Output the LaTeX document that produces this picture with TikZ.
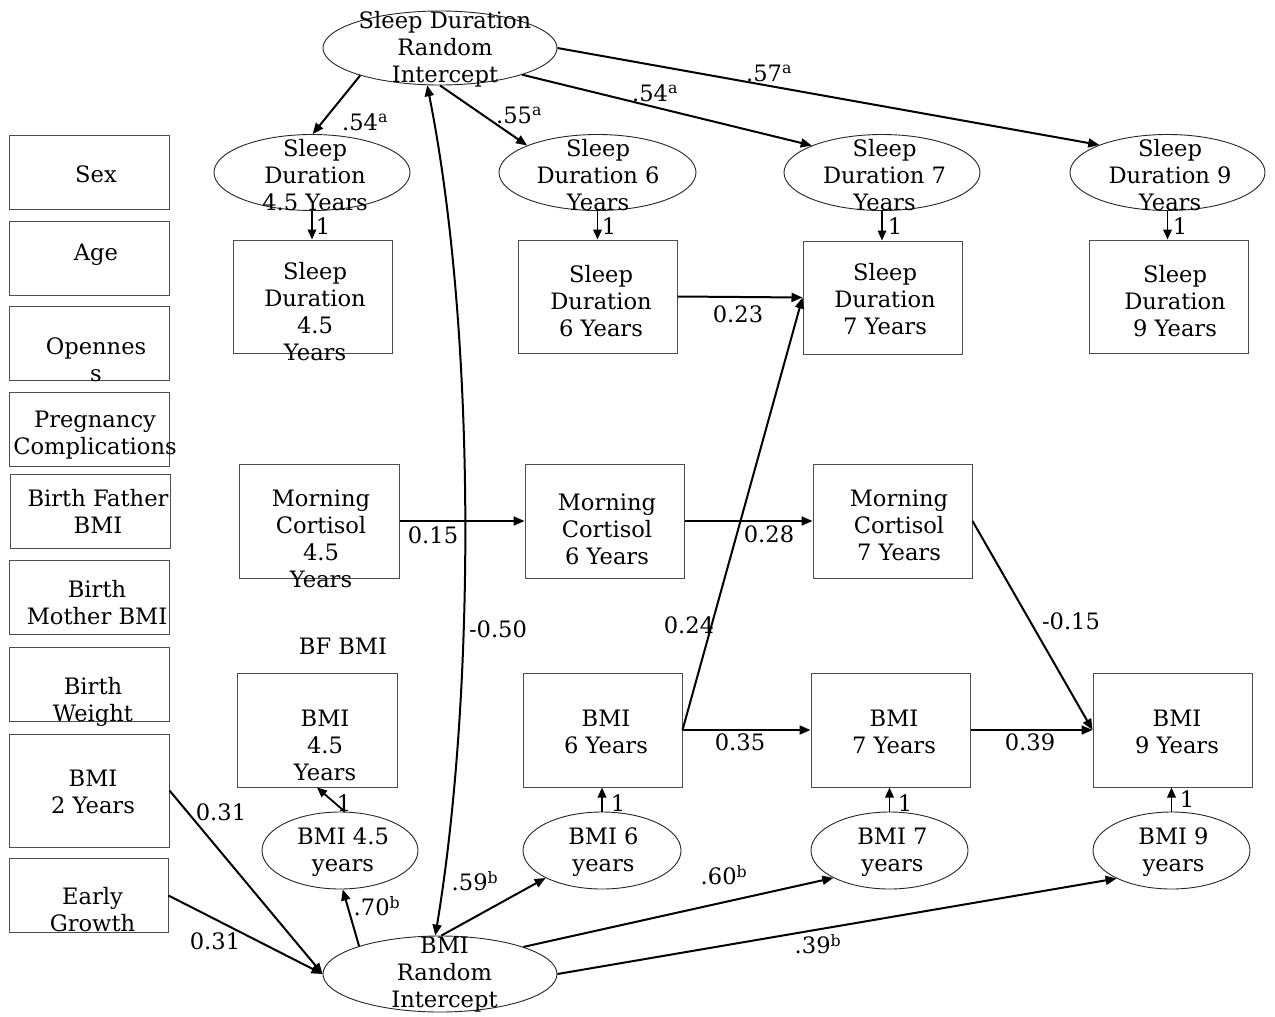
\documentclass[tikz,border=0pt]{standalone}
\usepackage{fontspec}
\setmainfont{DejaVu Serif}
\usetikzlibrary{arrows.meta,shapes.geometric}
\newcommand\myfs{\fontsize{22.6}{27}\selectfont}
\begin{document}
\begin{tikzpicture}[x=1pt,y=-1pt,
  boxn/.style={draw=black!70, line width=1pt, minimum width=160pt, minimum height=74pt, inner sep=0pt},
  elln/.style={ellipse, draw=black!85, line width=0.9pt, inner sep=0pt},
  txt/.style={align=center, inner sep=0pt, font=\myfs},
  lbl/.style={inner sep=0pt, font=\myfs},
  arr/.style={line width=2pt, -{Triangle[length=11pt,width=9pt]}},
  arrs/.style={line width=1.8pt, -{Triangle[length=10pt,width=8.5pt]}},
  dbl/.style={line width=2pt, {Triangle[length=11pt,width=9pt]}-{Triangle[length=11pt,width=9pt]}}]
\fill[white] (0,0) rectangle (1275,1017);
\useasboundingbox (0,0) rectangle (1275,1017);

% left column
\node[boxn] (sex) at (89,172) {};
\node[txt] (sext) at (96,174) {Sex};
\node[boxn] (age) at (89,258.5) {};
\node[txt] (aget) at (96,255) {Age};
\node[boxn] (opn) at (89,343) {};
\node[txt] (opnt) at (96,359.5) {Opennes\\s};
\node[boxn] (prg) at (89,429) {};
\node[txt] (prgt) at (95,435.5) {Pregnancy\\Complications};
\node[boxn] (bfb) at (90.5,511) {};
\node[txt] (bfbt) at (98,511.5) {Birth Father\\BMI};
\node[boxn] (bmb) at (89,597) {};
\node[txt] (bmbt) at (97,602.5) {Birth\\Mother BMI};
\node[boxn] (bw) at (89,684) {};
\node[txt] (bwt) at (93,701.5) {Birth\\Weight};
\node[boxn, minimum height=113pt] (b2) at (89,790.5) {};
\node[txt] (b2t) at (93,791.5) {BMI\\2 Years};
\node[boxn, minimum width=159pt] (eg) at (88.5,895.5) {};
\node[txt] (egt) at (92.5,909.5) {Early\\Growth};

% sleep random intercept
\node[elln, minimum width=234pt, minimum height=74pt] (sdri) at (440,48) {};
\node[txt] (sdrit) at (445,49) {Sleep Duration\\Random\\Intercept};

% sleep latent ellipses
\node[elln, minimum width=196pt, minimum height=76pt] (sd45e) at (312,172.5) {};
\node[txt] (sd45et) at (315,175) {Sleep\\Duration\\4.5 Years};
\node[elln, minimum width=197pt, minimum height=76pt] (sd6e) at (597.5,172.5) {};
\node[txt] (sd6et) at (598,175) {Sleep\\Duration 6\\Years};
\node[elln, minimum width=196pt, minimum height=76pt] (sd7e) at (882,172.5) {};
\node[txt] (sd7et) at (884.5,175) {Sleep\\Duration 7\\Years};
\node[elln, minimum width=195pt, minimum height=76pt] (sd9e) at (1167.5,172.5) {};
\node[txt] (sd9et) at (1170,175) {Sleep\\Duration 9\\Years};

% sleep boxes
\node[boxn, minimum width=159pt, minimum height=113pt] (sd45b) at (312.5,296.5) {};
\node[txt] (sd45bt) at (315,312) {Sleep\\Duration\\4.5\\Years};
\node[boxn, minimum width=159pt, minimum height=113pt] (sd6b) at (597.5,296.5) {};
\node[txt] (sd6bt) at (601,301) {Sleep\\Duration\\6 Years};
\node[boxn, minimum width=159pt, minimum height=113pt] (sd7b) at (882.5,297.5) {};
\node[txt] (sd7bt) at (885,299) {Sleep\\Duration\\7 Years};
\node[boxn, minimum width=159pt, minimum height=113pt] (sd9b) at (1168.5,296.5) {};
\node[txt] (sd9bt) at (1175,301) {Sleep\\Duration\\9 Years};

% cortisol boxes
\node[boxn, minimum width=160pt, minimum height=114pt] (mc45) at (319,521) {};
\node[txt] (mc45t) at (321,538.5) {Morning\\Cortisol\\4.5\\Years};
\node[boxn, minimum width=159pt, minimum height=114pt] (mc6) at (604.5,521) {};
\node[txt] (mc6t) at (607,529) {Morning\\Cortisol\\6 Years};
\node[boxn, minimum width=159pt, minimum height=114pt] (mc7) at (892.5,521) {};
\node[txt] (mc7t) at (899,525) {Morning\\Cortisol\\7 Years};

\node[lbl] (bft) at (343,646) {BF BMI};

% BMI boxes
\node[boxn, minimum width=160pt, minimum height=114pt] (bmi45b) at (317,730) {};
\node[txt] (bmi45bt) at (325,745) {BMI\\4.5\\Years};
\node[boxn, minimum width=159pt, minimum height=114pt] (bmi6b) at (602.5,730) {};
\node[txt] (bmi6bt) at (606,731.5) {BMI\\6 Years};
\node[boxn, minimum width=159pt, minimum height=114pt] (bmi7b) at (890.5,730) {};
\node[txt] (bmi7bt) at (894,731.5) {BMI\\7 Years};
\node[boxn, minimum width=159pt, minimum height=114pt] (bmi9b) at (1172.5,730) {};
\node[txt] (bmi9bt) at (1177,731.5) {BMI\\9 Years};

% BMI ellipses
\node[elln, minimum width=156pt, minimum height=77pt] (bmi45e) at (340,850.5) {};
\node[txt] (bmi45et) at (343,852.5) {BMI 4.5\\years};
\node[elln, minimum width=158pt, minimum height=77pt] (bmi6e) at (602,850.5) {};
\node[txt] (bmi6et) at (603.5,852.5) {BMI 6\\years};
\node[elln, minimum width=157pt, minimum height=77pt] (bmi7e) at (889.5,850.5) {};
\node[txt] (bmi7et) at (892.5,852.5) {BMI 7\\years};
\node[elln, minimum width=157pt, minimum height=77pt] (bmi9e) at (1171.5,850.5) {};
\node[txt] (bmi9et) at (1173.5,852.5) {BMI 9\\years};

% BMI random intercept
\node[elln, minimum width=234pt, minimum height=76pt] (bmiri) at (440,974) {};
\node[txt] (bmirit) at (444.5,975) {BMI\\Random\\Intercept};

% sleep RI paths
\draw[arr] (sdri.199) -- (sd45e.89);
\draw[arr] (sdri.-90) -- (sd6e.159);
\draw[arr] (sdri.-18) -- (sd7e.159);
\draw[arr] (sdri.0) -- (sd9e.158);
\node[lbl] (l1) at (365,122) {.54\textsuperscript{a}};
\node[lbl] (l2) at (519,115) {.55\textsuperscript{a}};
\node[lbl] (l3) at (655,93) {.54\textsuperscript{a}};
\node[lbl] (l4) at (769,73) {.57\textsuperscript{a}};

% loadings sleep
\draw[arrs] (sd45e.south) -- (sd45e.south |- sd45b.north);
\draw[arrs] (sd6e.south) -- (sd6e.south |- sd6b.north);
\draw[arrs] (sd7e.south) -- (sd7e.south |- sd7b.north);
\draw[arrs] (sd9e.south) -- (sd9e.south |- sd9b.north);
\node[lbl] (o1) at (323,226) {1};
\node[lbl] (o2) at (609,226) {1};
\node[lbl] (o3) at (895,226) {1};
\node[lbl] (o4) at (1180,226) {1};

% cross-lagged
\draw[arr] (sd6b.east) -- (sd7b.west);
\node[lbl] (l23) at (738,314) {0.23};
\draw[arr] (bmi6b.east) -- (sd7b.west);
\node[lbl] (l24) at (689,625) {0.24};
\draw[arr] (mc45.east) -- (mc6.west);
\node[lbl] (l15) at (433,535) {0.15};
\draw[arr] (mc6.east) -- (mc7.west);
\node[lbl] (l28) at (769,534) {0.28};
\draw[arr] (mc7.east) -- (bmi9b.west);
\node[lbl] (lm15) at (1071,621) {-0.15};
\draw[arr] (bmi6b.east) -- (bmi7b.west);
\node[lbl] (l35) at (740,742) {0.35};
\draw[arr] (bmi7b.east) -- (bmi9b.west);
\node[lbl] (l39) at (1030,742) {0.39};

% loadings BMI
\draw[arrs] (bmi45e.83) -- (bmi45b.south);
\draw[arrs] (bmi6e.north) -- (bmi6e.north |- bmi6b.south);
\draw[arrs] (bmi7e.north) -- (bmi7e.north |- bmi7b.south);
\draw[arrs] (bmi9e.north) -- (bmi9e.north |- bmi9b.south);
\node[lbl] (p1) at (344,803) {1};
\node[lbl] (p2) at (618,803) {1};
\node[lbl] (p3) at (905,803) {1};
\node[lbl] (p4) at (1187,799) {1};

% covariates to BMI RI
\draw[arr] (b2.east) -- (bmiri.west);
\node[lbl] (c1) at (221,812) {0.31};
\draw[arr] (eg.east) -- (bmiri.west);
\node[lbl] (c2) at (215,941) {0.31};

% BMI RI paths
\draw[arr] (bmiri.161) -- (bmi45e.-86);
\draw[arr] (bmiri.88) -- (bmi6e.206);
\draw[arr] (bmiri.18.5) -- (bmi7e.206);
\draw[arr] (bmiri.0) -- (bmi9e.207);
\node[lbl] (b1) at (377,906) {.70\textsuperscript{b}};
\node[lbl] (b2l) at (475,881) {.59\textsuperscript{b}};
\node[lbl] (b3) at (724,875) {.60\textsuperscript{b}};
\node[lbl] (b4) at (818,944) {.39\textsuperscript{b}};

% covariance of random intercepts
\draw[dbl] (sdri.-109) .. controls (476,330) and (476,690) .. (bmiri.97);
\node[lbl] (l50) at (498,629) {-0.50};
\end{tikzpicture}
\end{document}
